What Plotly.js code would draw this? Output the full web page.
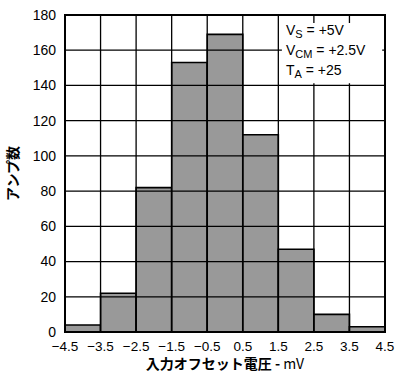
<!DOCTYPE html>
<html>
<head>
<meta charset="utf-8">
<script src="https://cdn.plot.ly/plotly-3.0.1.min.js"></script>
<style>html,body{margin:0;padding:0;background:#fff;}</style>
</head>
<body>
<div id="chart" style="width:397px;height:373px;"></div>
<script>
// Offset voltage histogram: bin centres (mV) and amplifier counts
const binCenters = [-4, -3, -2, -1, 0, 1, 2, 3, 4];
const counts = [4, 22, 82, 153, 169, 112, 47, 10, 3];
const xTickVals = [-4.5, -3.5, -2.5, -1.5, -0.5, 0.5, 1.5, 2.5, 3.5, 4.5];
const xTickText = ['\u22124.5', '\u22123.5', '\u22122.5', '\u22121.5', '\u22120.5', '0.5', '1.5', '2.5', '3.5', '4.5'];
const yTickVals = [0, 20, 40, 60, 80, 100, 120, 140, 160, 180];
const sub = s => '<sub><span style="font-size:11px">' + s + '</span></sub>';
const conditions = ['V' + sub('S') + ' = +5V', 'V' + sub('CM') + ' = +2.5V', 'T' + sub('A') + ' = +25'];

const xRange = [-4.5, 4.5];
const yRange = [0, 180];

// grid drawn as shapes so it sits on top of the bars
const shapes = [];
xTickVals.slice(1, -1).forEach(v => shapes.push({
  type: 'line', xref: 'x', yref: 'y', x0: v, x1: v, y0: yRange[0], y1: yRange[1],
  line: {color: '#000', width: 1.3}, layer: 'above'
}));
yTickVals.slice(1, -1).forEach(v => shapes.push({
  type: 'line', xref: 'x', yref: 'y', x0: xRange[0], x1: xRange[1], y0: v, y1: v,
  line: {color: '#000', width: 1.3}, layer: 'above'
}));
// white panel behind the test conditions
shapes.push({
  type: 'rect', xref: 'x', yref: 'y', x0: 1.6, x1: 4.42, y0: 141.2, y1: 175.5,
  fillcolor: '#fff', line: {width: 0}, layer: 'above'
});
// plot frame
shapes.push({
  type: 'rect', xref: 'paper', yref: 'paper', x0: 0, x1: 1, y0: 0, y1: 1,
  line: {color: '#000', width: 2}, layer: 'above'
});

const annotations = conditions.map((t, i) => ({
  xref: 'x', yref: 'y', x: 1.66, y: 171 - i * 11.3,
  xanchor: 'left', yanchor: 'middle', showarrow: false, text: t,
  font: {family: 'Liberation Sans, Arial, sans-serif', size: 14, color: '#000'}
}));

const trace = {
  type: 'bar', x: binCenters, y: counts, width: 1,
  marker: {color: '#999999', line: {color: '#000', width: 1.6}},
  hoverinfo: 'x+y'
};

const layout = {
  width: 397, height: 373,
  margin: {l: 65, r: 12, t: 15, b: 41},
  paper_bgcolor: '#fff', plot_bgcolor: '#fff',
  showlegend: false,
  font: {family: 'Liberation Sans, Arial, sans-serif', size: 14, color: '#000'},
  xaxis: {
    range: xRange, tickvals: xTickVals, ticktext: xTickText,
    showgrid: false, zeroline: false, showline: false, ticks: '',
    tickfont: {size: 13.5}, ticklabelstandoff: 4,
    title: {
      text: '<b>入力オフセット電圧 -</b> mV', standoff: 5,
      font: {family: 'Noto Sans CJK JP, Liberation Sans, sans-serif', size: 14}
    }
  },
  yaxis: {
    range: yRange, tickvals: yTickVals,
    showgrid: false, zeroline: false, showline: false, ticks: '',
    tickfont: {size: 14}, ticklabelstandoff: 8,
    title: {
      text: '<b>アンプ数</b>', standoff: 10,
      font: {family: 'Noto Sans CJK JP, sans-serif', size: 14}
    }
  },
  shapes: shapes,
  annotations: annotations
};

Plotly.newPlot('chart', [trace], layout, {displayModeBar: false, staticPlot: true});
</script>
</body>
</html>
